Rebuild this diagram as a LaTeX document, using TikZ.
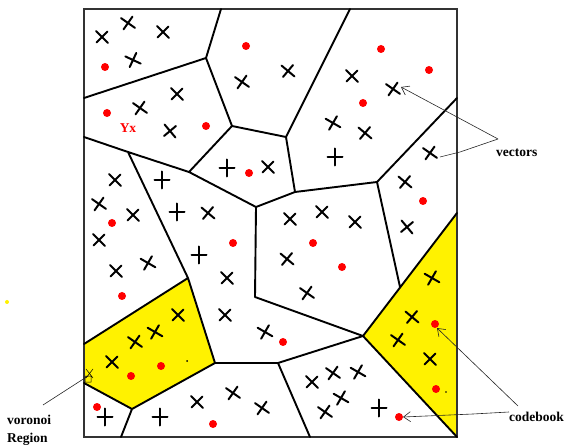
\documentclass[tikz,border=0pt]{standalone}
\usepackage{fontspec}
\setmainfont{Liberation Serif}
\usetikzlibrary{arrows.meta}
\tikzset{
  xstroke/.style={line width=2pt, line cap=round},
  xm/.pic={\draw[xstroke] (-6,-6)--(6,6) (-5.5,5.5)--(5.5,-5.5);},
  pm/.pic={\draw[xstroke] (-7.5,0)--(7.5,0) (0,-8.5)--(0,8.5);},
}
\begin{document}
\begin{tikzpicture}[x=1pt,y=-1pt,
  cell/.style={line width=1.9pt, line cap=round, line join=round},
  frame/.style={line width=1.3pt, draw=black!80},
  rdot/.style={fill=red, draw=none},
  lbl/.style={font=\fontsize{13.5}{18}\selectfont\bfseries, inner sep=0pt},
  ptr/.style={line width=0.6pt, draw=black!85},
  tipo/.style={-{Straight Barb[length=7pt,width=10pt,line width=0.6pt]}}
]
\useasboundingbox (0,0) rectangle (565,446);
\clip (0,0) rectangle (565,446);
% vertices
\coordinate (A) at (221,9);
\coordinate (B) at (206,58);
\coordinate (C) at (84,98);
\coordinate (D) at (232,126);
\coordinate (E) at (350,9);
\coordinate (F) at (286,137);
\coordinate (G) at (84,137);
\coordinate (H) at (128,152);
\coordinate (I) at (189,172);
\coordinate (J) at (256,207);
\coordinate (K) at (295,192);
\coordinate (L) at (377,182);
\coordinate (M) at (457,98);
\coordinate (N) at (457,213);
\coordinate (O) at (363,336);
\coordinate (P) at (255,297);
\coordinate (Q) at (278,363);
\coordinate (R) at (215,363);
\coordinate (S) at (188,278);
\coordinate (T) at (84,344);
\coordinate (U) at (132,409);
\coordinate (V) at (84,383);
\coordinate (W) at (121,437);
\coordinate (X) at (310,437);
\coordinate (Y) at (457,437);
\coordinate (Z) at (400,287);
% yellow regions
\fill[yellow] (T)--(S)--(R)--(U)--(V)--cycle;
\fill[yellow] (N)--(O)--(Y)--cycle;
% frame
\draw[frame] (84,9) rectangle (457,437);
% cell edges
\draw[cell] (A)--(B) (C)--(B)--(D)--(I) (D)--(F)--(E) (F)--(K)
  (G)--(H)--(I)--(J)--(K)--(L)--(M) (L)--(Z)
  (J)--(P)--(O)--(Q)--(R)--(S)--(H) (Q)--(X) (S)--(T)
  (R)--(U)--(V) (U)--(W) (N)--(O)--(Y);
% crosses
\foreach \x/\y/\r in {102/37/0, 128/23/10, 163/32/0, 133/60/20,
  140/108/10, 177/94/0, 170/131/-5,
  288/71/5, 242/82/10, 268/167/0,
  352/76/0, 393/89/10, 333/123/15, 365/133/5,
  430/153/10, 405/182/5, 407/227/-5,
  115/180/0, 99/204/10, 133/215/0, 99/240/0, 116/271/0, 148/263/15,
  208/213/5, 227/278/0, 225/315/0, 265/332/15,
  290/219/0, 322/212/0, 355/222/0, 287/259/5, 307/293/10,
  112/362/0, 135/342/10, 155/332/15, 178/315/0,
  197/402/0, 233/393/10, 262/408/10,
  312/382/0, 333/373/10, 358/372/15, 341/398/15, 325/412/10,
  432/278/15, 412/317/5, 398/340/10, 430/359/0}
  \pic[rotate=\r] at (\x,\y) {xm};
\foreach \x/\y in {227/168, 335/157, 162/180, 177/212, 199/255,
  105/417, 160/417, 379/408}
  \pic at (\x,\y) {pm};
% red dots (codebook)
\foreach \x/\y in {105/67, 107/113, 206/126, 249/173, 246/46, 381/49,
  429/70, 363/103, 423/201, 112/223, 122/296, 233/243, 283/342, 313/243,
  342/267, 399/417, 435/324, 436/389, 131/376, 161/366, 213/424, 97/407}
  \fill[rdot] (\x,\y) circle (4);
\fill (187,361) circle (1);
\fill (446,392) circle (0.8);
\fill[yellow] (7,302) circle (2);
% label Yx
\node[lbl, text=red] (yx) at (128,128) {Yx};
% vectors
\node[lbl, anchor=west] (vec) at (496,153) {vectors};
\coordinate (vs) at (498,139);
\coordinate (vt1) at (401,87);
\coordinate (vt2) at (440,157);
\draw[ptr, tipo] (vs)--(vt1);
\draw[ptr] (vs)--(460,152)--(vt2);
% codebook
\node[lbl, anchor=west] (cb) at (509,417) {codebook};
\coordinate (c1) at (518,406);
\coordinate (c2) at (509,412);
\coordinate (ct1) at (437,328);
\coordinate (ct2) at (403,417);
\draw[ptr, tipo] (c1)--(ct1);
\draw[ptr, tipo] (c2)--(473,414)--(ct2);
% voronoi region
\node[lbl, anchor=west, align=left] (vr) at (7,430) {voronoi\\Region};
\coordinate (vr1) at (43,405);
\coordinate (vr2) at (88,376);
\draw[ptr] (vr1)--(vr2);
\draw[line width=0.5pt] (86,369)--(93,378) (86,378)--(93,369)
  (85,376) rectangle (91,382);
\end{tikzpicture}
\end{document}
